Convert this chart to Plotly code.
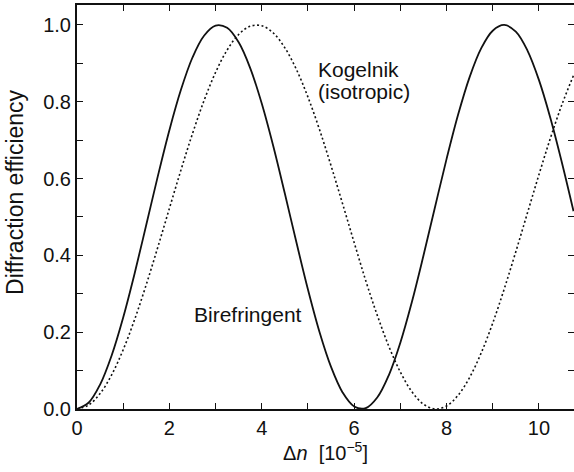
import plotly.graph_objects as go

# Refractive-index modulation, in units of 1e-5
delta_n = [0.0, 0.25, 0.5, 0.75, 1.0, 1.25, 1.5, 1.75, 2.0, 2.25, 2.5, 2.75,
           3.0, 3.25, 3.5, 3.75, 4.0, 4.25, 4.5, 4.75, 5.0, 5.25, 5.5, 5.75,
           6.0, 6.25, 6.5, 6.75, 7.0, 7.25, 7.5, 7.75, 8.0, 8.25, 8.5, 8.75,
           9.0, 9.25, 9.5, 9.75, 10.0, 10.25, 10.5, 10.75]

# Diffraction efficiency, birefringent grating model
eta_birefringent = [0.0, 0.0162, 0.0636, 0.1394, 0.2383, 0.3541, 0.4796, 0.6064,
                    0.7261, 0.8311, 0.9153, 0.9720, 0.9983, 0.9925, 0.9548, 0.8878,
                    0.7955, 0.6843, 0.5610, 0.4340, 0.3111, 0.2005, 0.1096, 0.0431,
                    0.0066, 0.0021, 0.0298, 0.0878, 0.1726, 0.2785, 0.3989, 0.5255,
                    0.6506, 0.7660, 0.8643, 0.9390, 0.9850, 1.0000, 0.9825, 0.9340,
                    0.8571, 0.7573, 0.6408, 0.5151]

# Diffraction efficiency, Kogelnik coupled-wave theory (isotropic medium)
eta_kogelnik = [0.0, 0.0102, 0.0402, 0.0889, 0.1544, 0.2339, 0.3241, 0.4215,
                0.5222, 0.6220, 0.7169, 0.8030, 0.8765, 0.9347, 0.9753, 0.9966,
                0.9980, 0.9791, 0.9405, 0.8842, 0.8122, 0.7276, 0.6336, 0.5344,
                0.4337, 0.3347, 0.2443, 0.1635, 0.0962, 0.0452, 0.0127, 0.0001,
                0.0079, 0.0356, 0.0821, 0.1457, 0.2236, 0.3128, 0.4095, 0.5097,
                0.6098, 0.7056, 0.7932, 0.8688]

x_ticks = [0, 2, 4, 6, 8, 10]
y_ticks = [0.0, 0.2, 0.4, 0.6, 0.8, 1.0]
y_tick_text = ["0.0", "0.2", "0.4", "0.6", "0.8", "1.0"]

FONT = "Liberation Sans, Arial, Helvetica, sans-serif"
INK = "#111111"

fig = go.Figure()

fig.add_trace(go.Scatter(
    x=delta_n, y=eta_kogelnik, mode="lines", line_shape="spline",
    line=dict(color=INK, width=1.6, dash="2px,2.5px"),
    name="Kogelnik (isotropic)", showlegend=False, hoverinfo="skip"))

fig.add_trace(go.Scatter(
    x=delta_n, y=eta_birefringent, mode="lines", line_shape="spline",
    line=dict(color=INK, width=1.8),
    name="Birefringent", showlegend=False, hoverinfo="skip"))

# empty trace to anchor the right-hand tick axis
fig.add_trace(go.Scatter(x=[None], y=[None], yaxis="y2", mode="lines",
                         showlegend=False, hoverinfo="skip"))

tick_common = dict(ticks="inside", ticklen=6, tickwidth=1.4, tickcolor=INK,
                   showgrid=False, zeroline=False)
minor_common = dict(ticks="inside", ticklen=6, tickwidth=1.4, tickcolor=INK, showgrid=False)

fig.update_layout(
    width=574, height=472,
    margin=dict(l=77, r=0, t=5, b=63),
    paper_bgcolor="white", plot_bgcolor="white",
    font=dict(family=FONT, size=20, color=INK),
    xaxis=dict(range=[0, 10.76], tickvals=x_ticks, ticktext=[str(v) for v in x_ticks],
               showline=True, linewidth=2, linecolor=INK, mirror="ticks",
               minor=dict(dtick=1, tick0=0, **minor_common),
               title=dict(text="Δ<i>n</i>&nbsp;&nbsp;[10<sup>−5</sup>]",
                          font=dict(size=20), standoff=4),
               **tick_common),
    yaxis=dict(range=[0, 1.052], tickvals=y_ticks, ticktext=y_tick_text,
               showline=True, linewidth=2, linecolor=INK, mirror=False,
               minor=dict(dtick=0.1, tick0=0, **minor_common),
               **tick_common),
    yaxis2=dict(range=[0, 1.052], overlaying="y", side="right", tickvals=y_ticks,
                showticklabels=False, showline=False,
                minor=dict(dtick=0.1, tick0=0, **minor_common),
                **tick_common),
)

# y-axis title placed as a rotated label
fig.add_annotation(x=-0.1247, y=0.535, xref="paper", yref="paper",
                   xanchor="center", yanchor="middle", textangle=-90,
                   showarrow=False, text="Diffraction efficiency", font=dict(size=23))

fig.add_annotation(x=5.17, y=0.885, xref="x", yref="y", xanchor="left", yanchor="middle",
                   showarrow=False, text="Kogelnik", font=dict(size=21))
fig.add_annotation(x=5.17, y=0.827, xref="x", yref="y", xanchor="left", yanchor="middle",
                   showarrow=False, text="(isotropic)", font=dict(size=21))
fig.add_annotation(x=2.48, y=0.245, xref="x", yref="y", xanchor="left", yanchor="middle",
                   showarrow=False, text="Birefringent", font=dict(size=21))

fig.write_html("out.html")
